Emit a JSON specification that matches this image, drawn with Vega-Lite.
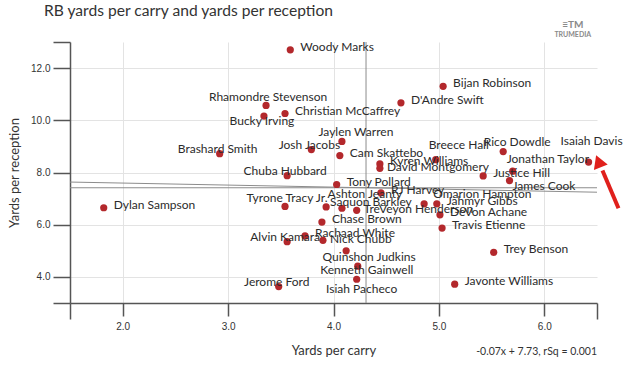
{
 "$schema": "https://vega.github.io/schema/vega-lite/v6.json",
 "width": 527,
 "height": 261,
 "autosize": {"type": "none"},
 "padding": {"left": 70, "top": 42, "right": 36, "bottom": 64},
 "background": "white",
 "config": {"view": {"stroke": null}},
 "title": {"text": "RB yards per carry and yards per reception", "anchor": "start", "frame": "group", "dx": -26, "offset": 0, "font": "Lato", "fontSize": 15.6, "fontWeight": "normal", "color": "#333"},
 "data": {"values": [
  {"name": "Woody Marks", "ypc": 3.59, "ypr": 12.70},
  {"name": "Bijan Robinson", "ypc": 5.04, "ypr": 11.30},
  {"name": "D'Andre Swift", "ypc": 4.64, "ypr": 10.67},
  {"name": "Rhamondre Stevenson", "ypc": 3.36, "ypr": 10.57},
  {"name": "Christian McCaffrey", "ypc": 3.54, "ypr": 10.26},
  {"name": "Bucky Irving", "ypc": 3.34, "ypr": 10.16},
  {"name": "Jaylen Warren", "ypc": 4.08, "ypr": 9.19},
  {"name": "Josh Jacobs", "ypc": 3.79, "ypr": 8.88},
  {"name": "Rico Dowdle", "ypc": 5.61, "ypr": 8.80},
  {"name": "Brashard Smith", "ypc": 2.92, "ypr": 8.72},
  {"name": "Cam Skattebo", "ypc": 4.06, "ypr": 8.65},
  {"name": "Breece Hall", "ypc": 4.97, "ypr": 8.49},
  {"name": "Isaiah Davis", "ypc": 6.42, "ypr": 8.40},
  {"name": "Kyren Williams", "ypc": 4.44, "ypr": 8.33},
  {"name": "David Montgomery", "ypc": 4.44, "ypr": 8.16},
  {"name": "Jonathan Taylor", "ypc": 5.70, "ypr": 8.05},
  {"name": "Chuba Hubbard", "ypc": 3.56, "ypr": 7.88},
  {"name": "Justice Hill", "ypc": 5.42, "ypr": 7.87},
  {"name": "James Cook", "ypc": 5.67, "ypr": 7.69},
  {"name": "Tony Pollard", "ypc": 4.03, "ypr": 7.54},
  {"name": "RJ Harvey", "ypc": 4.45, "ypr": 7.22},
  {"name": "Omarion Hampton", "ypc": 4.86, "ypr": 6.80},
  {"name": "Jahmyr Gibbs", "ypc": 4.98, "ypr": 6.80},
  {"name": "Tyrone Tracy Jr.", "ypc": 3.54, "ypr": 6.70},
  {"name": "Saquon Barkley", "ypc": 3.93, "ypr": 6.68},
  {"name": "Dylan Sampson", "ypc": 1.82, "ypr": 6.65},
  {"name": "Ashton Jeanty", "ypc": 4.08, "ypr": 6.63},
  {"name": "TreVeyon Henderson", "ypc": 4.22, "ypr": 6.55},
  {"name": "DeVon Achane", "ypc": 5.01, "ypr": 6.38},
  {"name": "Chase Brown", "ypc": 3.89, "ypr": 6.10},
  {"name": "Travis Etienne", "ypc": 5.03, "ypr": 5.87},
  {"name": "Rachaad White", "ypc": 3.73, "ypr": 5.57},
  {"name": "Nick Chubb", "ypc": 3.90, "ypr": 5.40},
  {"name": "Alvin Kamara", "ypc": 3.56, "ypr": 5.35},
  {"name": "Quinshon Judkins", "ypc": 4.12, "ypr": 5.00},
  {"name": "Trey Benson", "ypc": 5.52, "ypr": 4.94},
  {"name": "Kenneth Gainwell", "ypc": 4.23, "ypr": 4.41},
  {"name": "Isiah Pacheco", "ypc": 4.22, "ypr": 3.91},
  {"name": "Javonte Williams", "ypc": 5.15, "ypr": 3.72},
  {"name": "Jerome Ford", "ypc": 3.48, "ypr": 3.63}
 ]},
 "layer": [
  {
   "mark": {"type": "rule", "color": "#8c8c8c", "strokeWidth": 1},
   "encoding": {
    "x": {"aggregate": "mean", "field": "ypc", "type": "quantitative", "scale": {"domain": [1.5, 6.5], "nice": false, "zero": false},
     "axis": {"title": "Yards per carry", "values": [1.5, 2, 3, 4, 5, 6, 6.5],
      "labelExpr": "datum.value == 1.5 || datum.value == 6.5 ? '' : format(datum.value, '.1f')",
      "grid": true, "gridColor": "#e3e3e3",
      "gridOpacity": {"condition": {"test": "datum.value == 1.5 || datum.value == 6.5", "value": 0}, "value": 1},
      "tickSize": {"condition": {"test": "datum.value == 1.5 || datum.value == 6.5", "value": 16}, "value": 13},
      "tickColor": "#555", "tickWidth": 1.5, "domainColor": "#555", "domainWidth": 1.5,
      "labelFont": "Liberation Sans", "labelFontSize": 10, "labelColor": "#333", "labelPadding": 5,
      "titleFont": "Lato", "titleFontSize": 13, "titleFontWeight": "normal", "titleColor": "#333",
      "titleX": 263.5, "titleY": 47, "titleBaseline": "middle", "titleAlign": "center"}}
   }
  },
  {
   "mark": {"type": "rule", "color": "#8c8c8c", "strokeWidth": 1},
   "encoding": {
    "y": {"aggregate": "mean", "field": "ypr", "type": "quantitative", "scale": {"domain": [3, 13], "nice": false, "zero": false},
     "axis": {"title": "Yards per reception", "values": [3, 4, 6, 8, 10, 12, 13],
      "labelExpr": "datum.value == 3 || datum.value == 13 ? '' : format(datum.value, '.1f')",
      "grid": true, "gridColor": "#e3e3e3",
      "gridOpacity": {"condition": {"test": "datum.value == 3 || datum.value == 13", "value": 0}, "value": 1},
      "tickSize": 17, "tickColor": "#555", "tickWidth": 1.5, "domainColor": "#555", "domainWidth": 1.5,
      "labelFont": "Liberation Sans", "labelFontSize": 10, "labelColor": "#333", "labelPadding": 3,
      "titleFont": "Lato", "titleFontSize": 13, "titleFontWeight": "normal", "titleColor": "#333",
      "titleX": -56, "titleY": 130.5, "titleAngle": -90, "titleBaseline": "middle", "titleAlign": "center"}}
   }
  },
  {
   "transform": [{"regression": "ypr", "on": "ypc", "extent": [1.5, 6.5]}],
   "mark": {"type": "line", "color": "#8c8c8c", "strokeWidth": 1},
   "encoding": {
    "x": {"field": "ypc", "type": "quantitative"},
    "y": {"field": "ypr", "type": "quantitative"}
   }
  },
  {
   "mark": {"type": "circle", "color": "#b3282c", "opacity": 1, "size": 52},
   "encoding": {
    "x": {"field": "ypc", "type": "quantitative"},
    "y": {"field": "ypr", "type": "quantitative"}
   }
  },
  {
   "transform": [{"filter": {"field": "name", "oneOf": ["Woody Marks", "Bijan Robinson", "D'Andre Swift", "Christian McCaffrey", "Cam Skattebo", "Kyren Williams", "Tony Pollard", "Dylan Sampson", "Justice Hill", "DeVon Achane", "Jahmyr Gibbs", "RJ Harvey", "Chase Brown", "Travis Etienne", "Trey Benson", "Rachaad White", "Javonte Williams"]}}],
   "mark": {"type": "text", "align": "left", "baseline": "middle", "dx": 10, "dy": -3, "font": "Lato", "fontSize": 12, "color": "#2b2b2b"},
   "encoding": {"x": {"field": "ypc", "type": "quantitative"}, "y": {"field": "ypr", "type": "quantitative"}, "text": {"field": "name"}}
  },
  {
   "transform": [{"filter": {"field": "name", "oneOf": ["David Montgomery", "TreVeyon Henderson", "Nick Chubb"]}}],
   "mark": {"type": "text", "align": "left", "baseline": "middle", "dx": 7, "dy": -1, "font": "Lato", "fontSize": 12, "color": "#2b2b2b"},
   "encoding": {"x": {"field": "ypc", "type": "quantitative"}, "y": {"field": "ypr", "type": "quantitative"}, "text": {"field": "name"}}
  },
  {
   "transform": [{"filter": {"field": "name", "oneOf": ["Saquon Barkley"]}}],
   "mark": {"type": "text", "align": "left", "baseline": "middle", "dx": 4, "dy": -5, "font": "Lato", "fontSize": 12, "color": "#2b2b2b"},
   "encoding": {"x": {"field": "ypc", "type": "quantitative"}, "y": {"field": "ypr", "type": "quantitative"}, "text": {"field": "name"}}
  },
  {
   "transform": [{"filter": {"field": "name", "oneOf": ["James Cook"]}}],
   "mark": {"type": "text", "align": "left", "baseline": "middle", "dx": 3, "dy": 5, "font": "Lato", "fontSize": 12, "color": "#2b2b2b"},
   "encoding": {"x": {"field": "ypc", "type": "quantitative"}, "y": {"field": "ypr", "type": "quantitative"}, "text": {"field": "name"}}
  },
  {
   "transform": [{"filter": {"field": "name", "oneOf": ["Omarion Hampton"]}}],
   "mark": {"type": "text", "align": "left", "baseline": "middle", "dx": 9, "dy": -10, "font": "Lato", "fontSize": 12, "color": "#2b2b2b"},
   "encoding": {"x": {"field": "ypc", "type": "quantitative"}, "y": {"field": "ypr", "type": "quantitative"}, "text": {"field": "name"}}
  },
  {
   "transform": [{"filter": {"field": "name", "oneOf": ["Jonathan Taylor"]}}],
   "mark": {"type": "text", "align": "left", "baseline": "middle", "dx": -6, "dy": -12, "font": "Lato", "fontSize": 12, "color": "#2b2b2b"},
   "encoding": {"x": {"field": "ypc", "type": "quantitative"}, "y": {"field": "ypr", "type": "quantitative"}, "text": {"field": "name"}}
  },
  {
   "transform": [{"filter": {"field": "name", "oneOf": ["Brashard Smith", "Chuba Hubbard", "Jerome Ford", "Alvin Kamara", "Josh Jacobs"]}}],
   "mark": {"type": "text", "align": "center", "baseline": "middle", "dx": -2, "dy": -5, "font": "Lato", "fontSize": 12, "color": "#2b2b2b"},
   "encoding": {"x": {"field": "ypc", "type": "quantitative"}, "y": {"field": "ypr", "type": "quantitative"}, "text": {"field": "name"}}
  },
  {
   "transform": [{"filter": {"field": "name", "oneOf": ["Rhamondre Stevenson", "Tyrone Tracy Jr."]}}],
   "mark": {"type": "text", "align": "center", "baseline": "middle", "dx": 2, "dy": -8, "font": "Lato", "fontSize": 12, "color": "#2b2b2b"},
   "encoding": {"x": {"field": "ypc", "type": "quantitative"}, "y": {"field": "ypr", "type": "quantitative"}, "text": {"field": "name"}}
  },
  {
   "transform": [{"filter": {"field": "name", "oneOf": ["Jaylen Warren", "Rico Dowdle"]}}],
   "mark": {"type": "text", "align": "center", "baseline": "middle", "dx": 14, "dy": -9.5, "font": "Lato", "fontSize": 12, "color": "#2b2b2b"},
   "encoding": {"x": {"field": "ypc", "type": "quantitative"}, "y": {"field": "ypr", "type": "quantitative"}, "text": {"field": "name"}}
  },
  {
   "transform": [{"filter": {"field": "name", "oneOf": ["Breece Hall", "Ashton Jeanty"]}}],
   "mark": {"type": "text", "align": "center", "baseline": "middle", "dx": 23, "dy": -14.5, "font": "Lato", "fontSize": 12, "color": "#2b2b2b"},
   "encoding": {"x": {"field": "ypc", "type": "quantitative"}, "y": {"field": "ypr", "type": "quantitative"}, "text": {"field": "name"}}
  },
  {
   "transform": [{"filter": {"field": "name", "oneOf": ["Isaiah Davis"]}}],
   "mark": {"type": "text", "align": "center", "baseline": "middle", "dx": 3, "dy": -21, "font": "Lato", "fontSize": 12, "color": "#2b2b2b"},
   "encoding": {"x": {"field": "ypc", "type": "quantitative"}, "y": {"field": "ypr", "type": "quantitative"}, "text": {"field": "name"}}
  },
  {
   "transform": [{"filter": {"field": "name", "oneOf": ["Quinshon Judkins"]}}],
   "mark": {"type": "text", "align": "center", "baseline": "middle", "dx": 23, "dy": 6, "font": "Lato", "fontSize": 12, "color": "#2b2b2b"},
   "encoding": {"x": {"field": "ypc", "type": "quantitative"}, "y": {"field": "ypr", "type": "quantitative"}, "text": {"field": "name"}}
  },
  {
   "transform": [{"filter": {"field": "name", "oneOf": ["Kenneth Gainwell"]}}],
   "mark": {"type": "text", "align": "center", "baseline": "middle", "dx": 9, "dy": 4, "font": "Lato", "fontSize": 12, "color": "#2b2b2b"},
   "encoding": {"x": {"field": "ypc", "type": "quantitative"}, "y": {"field": "ypr", "type": "quantitative"}, "text": {"field": "name"}}
  },
  {
   "transform": [{"filter": {"field": "name", "oneOf": ["Bucky Irving"]}}],
   "mark": {"type": "text", "align": "center", "baseline": "middle", "dx": -2, "dy": 5, "font": "Lato", "fontSize": 12, "color": "#2b2b2b"},
   "encoding": {"x": {"field": "ypc", "type": "quantitative"}, "y": {"field": "ypr", "type": "quantitative"}, "text": {"field": "name"}}
  },
  {
   "transform": [{"filter": {"field": "name", "oneOf": ["Isiah Pacheco"]}}],
   "mark": {"type": "text", "align": "center", "baseline": "middle", "dx": 5, "dy": 10, "font": "Lato", "fontSize": 12, "color": "#2b2b2b"},
   "encoding": {"x": {"field": "ypc", "type": "quantitative"}, "y": {"field": "ypr", "type": "quantitative"}, "text": {"field": "name"}}
  },
  {
   "data": {"values": [{"note": "-0.07x + 7.73, rSq = 0.001"}]},
   "mark": {"type": "text", "align": "right", "baseline": "middle", "font": "Lato", "fontSize": 10.5, "color": "#333"},
   "encoding": {"x": {"datum": 6.5, "type": "quantitative"}, "y": {"datum": 1.11, "type": "quantitative"}, "text": {"field": "note"}}
  },
  {
   "data": {"values": [{"logo": "TRUMEDIA"}]},
   "mark": {"type": "text", "align": "center", "baseline": "middle", "font": "Lato", "fontSize": 7, "fontWeight": "bold", "color": "#8a8a8a"},
   "encoding": {"x": {"datum": 6.27, "type": "quantitative"}, "y": {"datum": 13.28, "type": "quantitative"}, "text": {"field": "logo"}}
  },
  {
   "data": {"values": [{"logo": "≡TM"}]},
   "mark": {"type": "text", "align": "center", "baseline": "middle", "font": "Lato", "fontSize": 10, "fontWeight": "bold", "color": "#8a8a8a"},
   "encoding": {"x": {"datum": 6.27, "type": "quantitative"}, "y": {"datum": 13.66, "type": "quantitative"}, "text": {"field": "logo"}}
  },
  {
   "data": {"values": [{"arrow": "shaft"}]},
   "mark": {"type": "rule", "color": "#e0201c", "strokeWidth": 4},
   "encoding": {"x": {"datum": 6.704, "type": "quantitative"}, "y": {"datum": 6.63, "type": "quantitative"}, "x2": {"datum": 6.552}, "y2": {"datum": 8.08}}
  },
  {
   "data": {"values": [{"arrow": "head"}]},
   "mark": {"type": "point", "shape": "triangle-up", "filled": true, "color": "#e0201c", "opacity": 1, "size": 220, "angle": -21.5},
   "encoding": {"x": {"datum": 6.514, "type": "quantitative"}, "y": {"datum": 8.43, "type": "quantitative"}}
  }
 ]
}
